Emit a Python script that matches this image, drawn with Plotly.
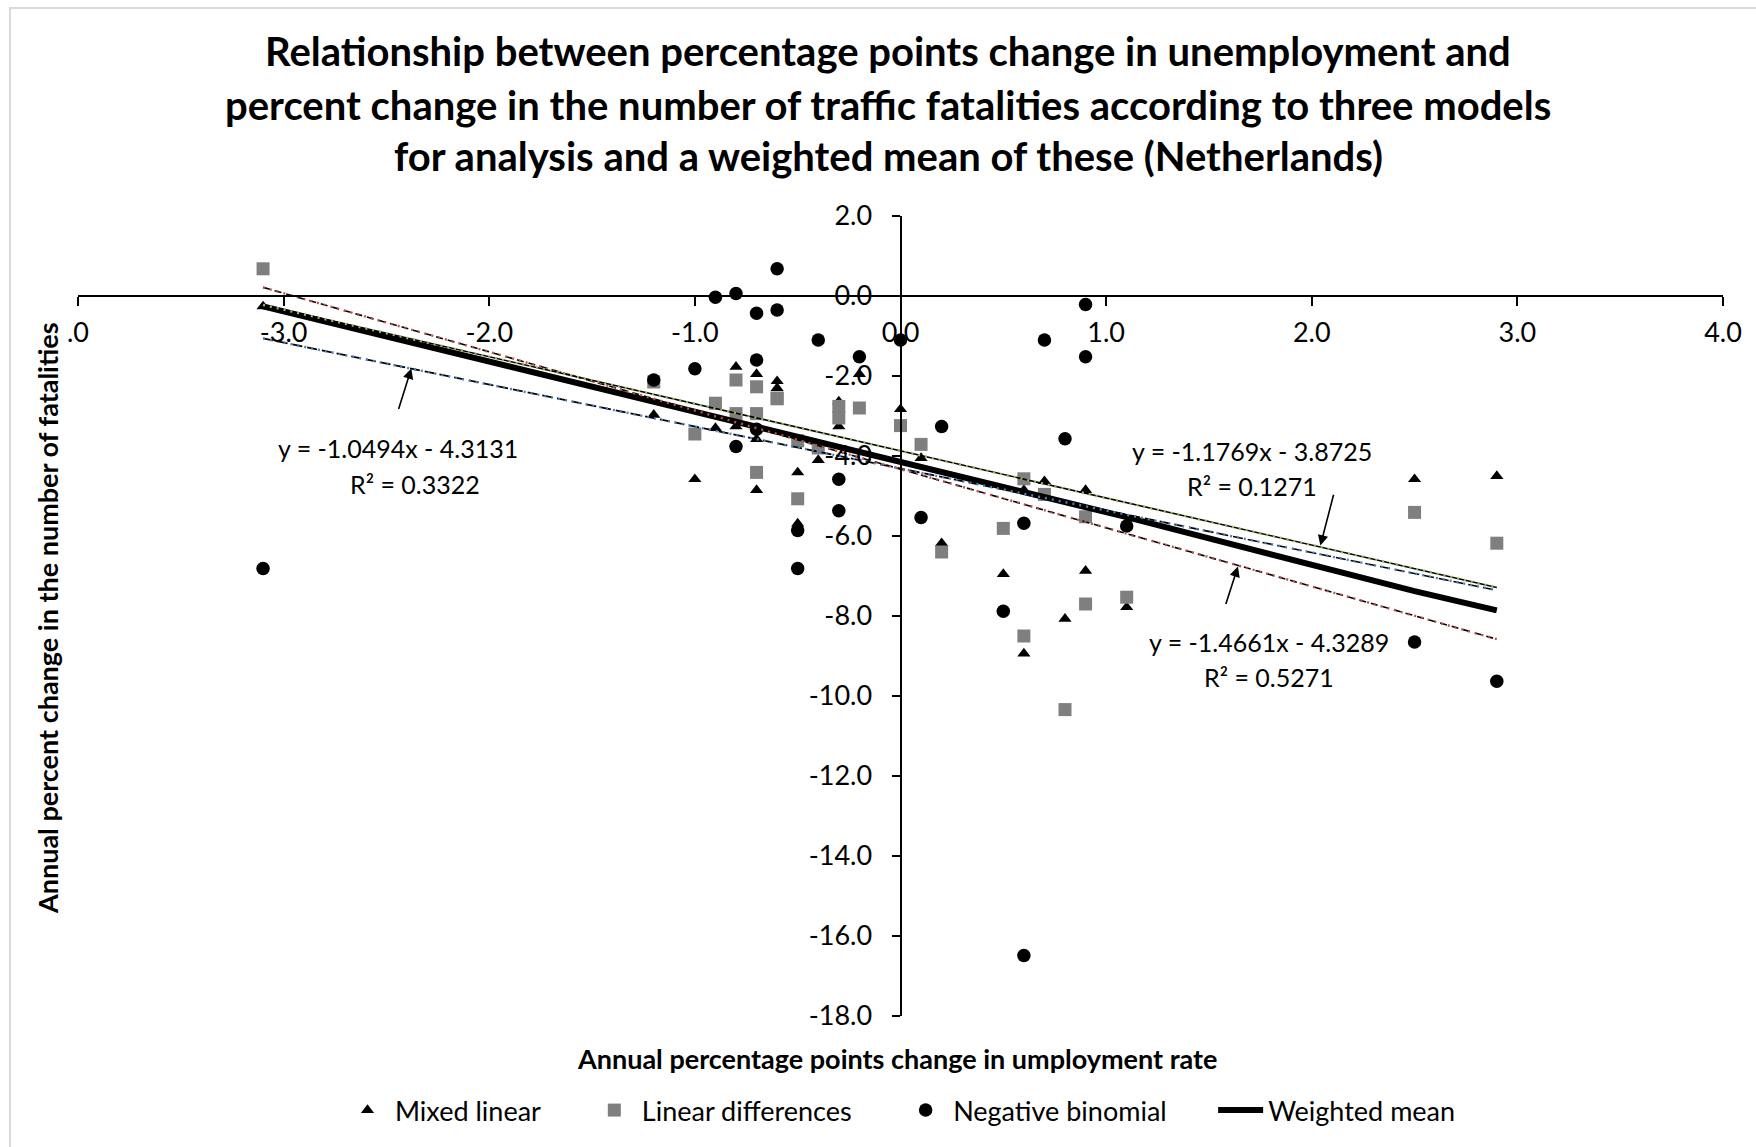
import plotly.graph_objects as go

# Annual percentage-point change in unemployment (one value per observation year)
unemp_change = [-3.1, -1.2, -1.0, -0.9, -0.8, -0.8, -0.7, -0.7, -0.7, -0.6, -0.6,
                -0.5, -0.5, -0.4, -0.3, -0.3, -0.2, 0.0, 0.1, 0.2, 0.5, 0.6, 0.6,
                0.7, 0.8, 0.9, 0.9, 1.1, 2.5, 2.9]

# Annual percent change in traffic fatalities per model
mixed_linear = [-0.26, -2.97, -4.58, -3.30, -1.77, -3.26, -1.95, -3.58, -4.85, -2.13, -2.30,
                -4.41, -5.69, -4.10, -2.64, -3.26, -1.95, -2.83, -4.05, -6.18, -6.95, -4.85, -8.94,
                -4.63, -8.07, -4.85, -6.87, -7.78, -4.58, -4.50]
linear_differences = [0.68, -2.15, -3.45, -2.68, -2.10, -2.94, -2.27, -2.94, -4.41, -2.57, -2.55,
                      -3.62, -5.07, -3.80, -2.76, -3.05, -2.80, -3.24, -3.71, -6.40, -5.81, -4.57, -8.50,
                      -4.96, -10.34, -5.52, -7.70, -7.53, -5.41, -6.18]
negative_binomial = [-6.81, -2.10, -1.82, -0.03, 0.06, -3.76, -0.43, -1.60, -3.33, 0.68, -0.35,
                     -5.86, -6.81, -1.10, -4.58, -5.37, -1.52, -1.10, -5.54, -3.26, -7.88, -5.68, -16.49,
                     -1.10, -3.57, -0.21, -1.52, -5.75, -8.65, -9.63]

# Weighted mean of the three models
weighted_x = [-3.1, -1.2, 0.0, 1.1, 2.5, 2.9]
weighted_y = [-0.26, -2.64, -4.17, -5.53, -7.38, -7.86]

# Linear trendlines (slope, intercept, R²)
trend_mixed = (-1.0494, -4.3131, 0.3322)
trend_lindiff = (-1.4661, -4.3289, 0.5271)
trend_negbin = (-1.1769, -3.8725, 0.1271)
trend_span = [-3.1, 2.9]

x_tick_vals = [-4, -3, -2, -1, 0, 1, 2, 3, 4]
x_tick_text = [".0", "-3.0", "-2.0", "-1.0", "0.0", "1.0", "2.0", "3.0", "4.0"]
y_tick_vals = [2, 0, -2, -4, -6, -8, -10, -12, -14, -16, -18]
y_tick_text = ["2.0", "0.0", "-2.0", "-4.0", "-6.0", "-8.0", "-10.0", "-12.0", "-14.0", "-16.0", "-18.0"]

title_lines = [
    "Relationship between percentage points change in unemployment and",
    "percent change in the number of traffic fatalities according to three models",
    "for analysis and a weighted mean of these (Netherlands)",
]

FONT = "Lato"
W, H = 1756, 1147
ML, MR, MT, MB = 78, 33, 216, 127
PW, PH = W - ML - MR, H - MT - MB
GAP = "\u00a0" * 6  # extra room between legend entries


def px_x(px):
    return (px - ML) / PW


def px_y(py):
    return (H - MB - py) / PH


def trend_y(t, xs):
    return [t[0] * x + t[1] for x in xs]


fig = go.Figure()

fig.add_trace(go.Scatter(x=unemp_change, y=mixed_linear, mode="markers", name="Mixed linear" + GAP,
                         marker=dict(symbol="triangle-up", size=11.5, color="black")))
fig.add_trace(go.Scatter(x=unemp_change, y=linear_differences, mode="markers", name="Linear differences" + GAP,
                         marker=dict(symbol="square", size=13, color="#7f7f7f")))
fig.add_trace(go.Scatter(x=unemp_change, y=negative_binomial, mode="markers", name="Negative binomial" + GAP,
                         marker=dict(symbol="circle", size=13.5, color="black")))
fig.add_trace(go.Scatter(x=weighted_x, y=weighted_y, mode="lines", name="Weighted mean",
                         line=dict(color="black", width=6)))

# trendlines: black base stroke with a coloured dotted overlay
trend_styles = [
    (trend_mixed, "10px,5px", "#4f81bd"),
    (trend_lindiff, "7px,5px", "#c0504d"),
    (trend_negbin, "solid", "#9bbb59"),
]
for t, base_dash, col in trend_styles:
    ys = trend_y(t, trend_span)
    fig.add_trace(go.Scatter(x=trend_span, y=ys, mode="lines", showlegend=False, hoverinfo="skip",
                             line=dict(color="black", width=1.6, dash=base_dash)))
    fig.add_trace(go.Scatter(x=trend_span, y=ys, mode="lines", showlegend=False, hoverinfo="skip",
                             line=dict(color=col, width=2.4, dash="2px,5px")))

annotations = []
# title lines
for line, py in zip(title_lines, [50, 104, 156]):
    annotations.append(dict(text="<b>" + line + "</b>", x=px_x(888), y=px_y(py), xref="paper", yref="paper",
                            xanchor="center", yanchor="middle", showarrow=False,
                            font=dict(family=FONT, size=40, color="black")))
# axis titles
annotations.append(dict(text="<b>Annual percentage points change in umployment rate</b>",
                        x=px_x(897), y=px_y(1063), xref="paper", yref="paper",
                        xanchor="center", yanchor="middle", showarrow=False,
                        font=dict(family=FONT, size=27, color="black")))
annotations.append(dict(text="<b>Annual percent change in the number of fatalities</b>",
                        x=px_x(48), y=px_y(620), xref="paper", yref="paper", textangle=-90,
                        xanchor="center", yanchor="middle", showarrow=False,
                        font=dict(family=FONT, size=27, color="black")))


def eq_label(t, x_eq, x_r2, y1, y2):
    eq = "y = %.4fx - %.4f" % (t[0], -t[1])
    r2 = "R² = %.4f" % t[2]
    for txt, xx, yy in ((eq, x_eq, y1), (r2, x_r2, y2)):
        annotations.append(dict(text=txt, x=xx, y=yy, xref="x", yref="y", showarrow=False,
                                xanchor="center", yanchor="middle",
                                font=dict(family=FONT, size=25, color="black")))


eq_label(trend_mixed, -2.443, -2.361, -3.80, -4.71)
eq_label(trend_negbin, 1.71, 1.71, -3.88, -4.75)
eq_label(trend_lindiff, 1.79, 1.79, -8.65, -9.52)

# arrows from labels to their trendlines
for (hx, hy), (tx, ty) in [((-2.379, -1.81), (-2.443, -2.86)),
                           ((2.042, -6.24), (2.108, -4.93)),
                           ((1.641, -6.76), (1.580, -7.74))]:
    annotations.append(dict(x=hx, y=hy, ax=tx, ay=ty, xref="x", yref="y", axref="x", ayref="y",
                            text="", showarrow=True, arrowhead=2, arrowsize=1.3, arrowwidth=1.6,
                            arrowcolor="black"))

fig.update_layout(
    width=W, height=H,
    margin=dict(l=ML, r=MR, t=MT, b=MB),
    paper_bgcolor="white", plot_bgcolor="white",
    font=dict(family=FONT, size=27, color="black"),
    annotations=annotations,
    showlegend=True,
    legend=dict(orientation="h", x=0.5, xanchor="center", y=px_y(1115), yanchor="middle",
                font=dict(family=FONT, size=27, color="black"), itemwidth=45,
                bgcolor="rgba(0,0,0,0)"),
    shapes=[dict(type="rect", xref="paper", yref="paper", layer="below",
                 x0=px_x(10), y0=px_y(1160), x1=px_x(1770), y1=px_y(7),
                 line=dict(color="#d9d9d9", width=2))],
)

fig.update_xaxes(range=[-4, 4], tickmode="array", tickvals=x_tick_vals, ticktext=x_tick_text,
                 showgrid=False, zeroline=False, showline=True, linecolor="black", linewidth=1.6,
                 ticks="outside", ticklen=9, tickwidth=1.6, tickcolor="black",
                 anchor="free", position=0.9, ticklabelstandoff=4,
                 tickfont=dict(family=FONT, size=27, color="black"))
fig.update_yaxes(range=[-18, 2], tickmode="array", tickvals=y_tick_vals, ticktext=y_tick_text,
                 showgrid=False, zeroline=False, showline=True, linecolor="black", linewidth=2,
                 ticks="outside", ticklen=8, tickwidth=1.6, tickcolor="black",
                 anchor="free", position=0.5, ticklabelstandoff=14,
                 tickfont=dict(family=FONT, size=27, color="black"))

fig.write_html("out.html")
